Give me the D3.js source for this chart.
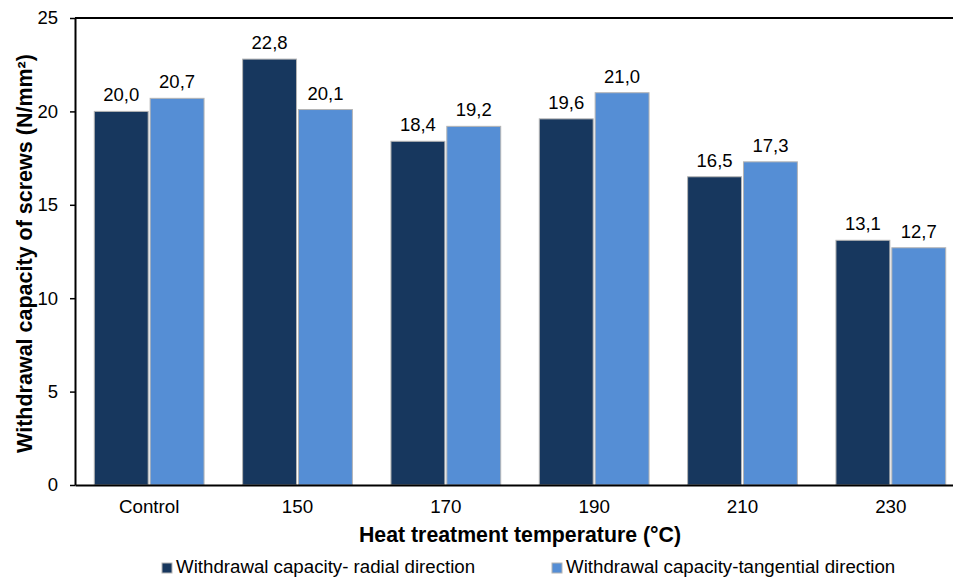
<!DOCTYPE html>
<html>
<head>
<meta charset="utf-8">
<script src="https://cdn.jsdelivr.net/npm/d3@7"></script>
<style>
  body { margin: 0; background: #fff; }
  svg { display: block; font-family: "Liberation Sans", Arial, sans-serif; }
</style>
</head>
<body>
<div id="chart"></div>
<script>
const categories = ["Control", "150", "170", "190", "210", "230"];
const seriesNames = ["Withdrawal capacity- radial direction", "Withdrawal capacity-tangential direction"];
const radialValues = [20.0, 22.8, 18.4, 19.6, 16.5, 13.1];
const tangentialValues = [20.7, 20.1, 19.2, 21.0, 17.3, 12.7];
const yTicks = [0, 5, 10, 15, 20, 25];
const colors = ["#17375E", "#558ED5"];

const width = 953, height = 577;
const margin = { top: 18, right: -12, bottom: 92, left: 75 };

const svg = d3.select("#chart").append("svg")
    .attr("width", width)
    .attr("height", height);

const x = d3.scaleBand()
    .domain(categories)
    .range([margin.left, width - margin.right])
    .paddingInner(0.26)
    .paddingOuter(0.13);

const xSeries = d3.scaleBand()
    .domain([0, 1])
    .range([0, x.bandwidth()])
    .paddingInner(0.035);

const y = d3.scaleLinear()
    .domain([0, 25])
    .range([height - margin.bottom, margin.top]);

const rows = categories.map((c, i) => ({ cat: c, values: [radialValues[i], tangentialValues[i]] }));

// bars
const groups = svg.append("g").selectAll("g")
    .data(rows)
    .join("g")
    .attr("transform", d => `translate(${x(d.cat)},0)`);

groups.selectAll("rect")
    .data(d => d.values.map((v, s) => ({ v, s })))
    .join("rect")
    .attr("x", d => xSeries(d.s))
    .attr("y", d => y(d.v))
    .attr("width", xSeries.bandwidth())
    .attr("height", d => y(0) - y(d.v))
    .attr("fill", d => colors[d.s])
    .attr("stroke", "#b4b4b4")
    .attr("stroke-width", 1);

// data labels
groups.selectAll("text")
    .data(d => d.values.map((v, s) => ({ v, s })))
    .join("text")
    .attr("x", d => xSeries(d.s) + xSeries.bandwidth() / 2)
    .attr("y", d => y(d.v) - 10)
    .attr("text-anchor", "middle")
    .style("font-size", "18.5px")
    .style("fill", "#000")
    .text(d => d.v.toFixed(1).replace(".", ","));

// y axis
const yAxis = svg.append("g")
    .attr("transform", `translate(${margin.left},0)`)
    .call(d3.axisLeft(y).tickValues(yTicks).tickSize(5).tickSizeOuter(0).tickPadding(12));
yAxis.select(".domain").attr("stroke", "#000").attr("stroke-width", 2);
yAxis.selectAll(".tick line").attr("stroke", "#000").attr("stroke-width", 1.5);
yAxis.selectAll(".tick text")
    .style("font-size", "18.5px")
    .style("font-family", "'Liberation Sans', Arial, sans-serif")
    .attr("fill", "#000");

// x axis
const xAxis = svg.append("g")
    .attr("transform", `translate(0,${y(0)})`)
    .call(d3.axisBottom(x).tickSize(0).tickPadding(15));
xAxis.select(".domain").attr("stroke", "#000").attr("stroke-width", 2);
xAxis.selectAll(".tick text")
    .style("font-size", "18.8px")
    .style("font-family", "'Liberation Sans', Arial, sans-serif")
    .attr("fill", "#000");

// top border
svg.append("line")
    .attr("x1", margin.left).attr("x2", width)
    .attr("y1", y(25)).attr("y2", y(25))
    .attr("stroke", "#000").attr("stroke-width", 2);

// axis titles
svg.append("text")
    .attr("x", (margin.left + width - margin.right) / 2)
    .attr("y", 542)
    .attr("text-anchor", "middle")
    .style("font-size", "21.3px")
    .style("font-weight", "bold")
    .text("Heat treatment temperature (°C)");

svg.append("text")
    .attr("transform", `translate(24,${(y(0) + y(25)) / 2 + 2}) rotate(-90)`)
    .attr("text-anchor", "middle")
    .attr("dy", "0.35em")
    .style("font-size", "21.5px")
    .style("font-weight", "bold")
    .text("Withdrawal capacity of screws (N/mm²)");

// legend
const legendX = [162, 552];
const legend = svg.append("g").selectAll("g")
    .data(seriesNames)
    .join("g")
    .attr("transform", (d, i) => `translate(${legendX[i]},563)`);

legend.append("rect")
    .attr("width", 10).attr("height", 10)
    .attr("fill", (d, i) => colors[i])
    .attr("stroke", "#b4b4b4")
    .attr("stroke-width", 1);

legend.append("text")
    .attr("x", 14)
    .attr("y", 10)
    .style("font-size", "18.7px")
    .text(d => d);
</script>
</body>
</html>
